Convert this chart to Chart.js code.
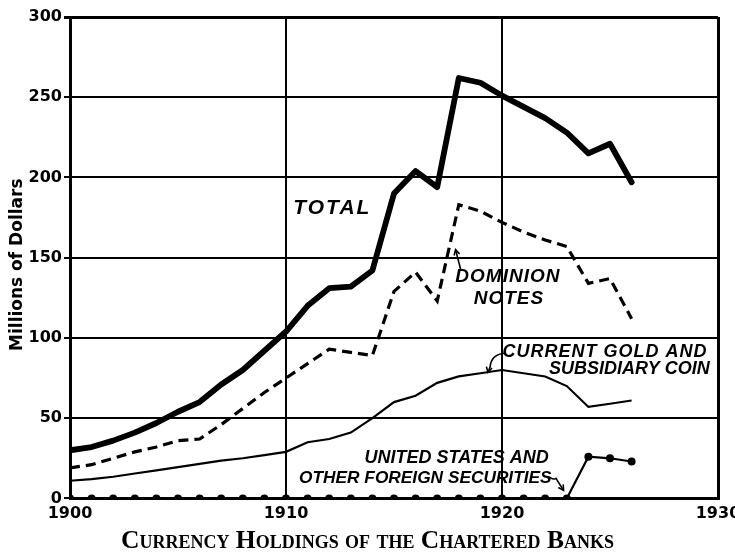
<!DOCTYPE html>
<html><head><meta charset="utf-8">
<script src="https://cdn.jsdelivr.net/npm/chart.js@4/dist/chart.umd.min.js"></script>
<style>html,body{margin:0;padding:0;background:#fff}#wrap{width:735px;height:557px}</style>
</head><body><div id="wrap"><canvas id="c" width="735" height="557"></canvas></div>
<script>
// ---- data ----
const years = [1900,1901,1902,1903,1904,1905,1906,1907,1908,1909,1910,1911,1912,1913,1914,1915,1916,1917,1918,1919,1920,1921,1922,1923,1924,1925,1926];
const total = [30,32,36,41,47,54,60,71,80,92,104,120,131,132,142,190,204,194,262,259,251,244,237,228,215,221,197];
const dominionNotes = [19,21,25,29,32,36,37,46,56,66,75,84,93,91,89,129,141,123,183,179,172,166,161,157,134,137,112];
const goldCoin = [11,12,13.5,15.5,17.5,19.5,21.5,23.5,25,27,29,35,37,41,50,60,64,72,76,78,80,78,76,70,57,59,61];
const securities = [0,0,0,0,0,0,0,0,0,0,0,0,0,0,0,0,0,0,0,0,0,0,0,0,26,25,23];
const xTicks = [1900,1910,1920,1930];
const yTicks = [0,50,100,150,200,250,300];
const yTitle = 'Millions of Dollars';
const chartTitle = 'Currency Holdings of the Chartered Banks';

const pts = arr => years.map((y,i)=>({x:y,y:arr[i]}));

// text labels placed in data coordinates
const labels = [
  {t:'TOTAL', x:1912.1, y:181, size:21, sp:2},
  {t:'DOMINION', x:1920.25, y:138, size:19, sp:1},
  {t:'NOTES', x:1920.3, y:124.5, size:19, sp:1},
  {t:'CURRENT GOLD AND', x:1924.75, y:91.5, size:18, sp:1},
  {t:'SUBSIDIARY COIN', x:1925.9, y:80.5, size:18, sp:0},
  {t:'UNITED STATES AND', x:1917.9, y:25, size:18, sp:0},
  {t:'OTHER FOREIGN SECURITIES', x:1916.45, y:12.5, size:17.3, sp:0}
];

const annot = {
  id:'annot',
  afterDatasetsDraw(chart){
    const ctx = chart.ctx, xs = chart.scales.x, ys = chart.scales.y;
    const X = v=>xs.getPixelForValue(v), Y = v=>ys.getPixelForValue(v);
    ctx.save();
    ctx.fillStyle = '#000';
    ctx.textAlign = 'center';
    ctx.textBaseline = 'middle';
    labels.forEach(l=>{
      ctx.font = `italic bold ${l.size}px "Liberation Sans", Arial, sans-serif`;
      ctx.letterSpacing = l.sp + 'px';
      ctx.fillText(l.t, X(l.x) + l.sp/2, Y(l.y));
    });
    ctx.letterSpacing = '0px';
    // y-axis title
    ctx.save();
    ctx.translate(17.5, (chart.chartArea.top + chart.chartArea.bottom)/2 + 7);
    ctx.rotate(-Math.PI/2);
    ctx.font = 'bold 17px "DejaVu Sans", sans-serif';
    ctx.fillText(yTitle, 0, 0);
    ctx.restore();

    ctx.strokeStyle = '#000';
    ctx.lineWidth = 1.6;
    const arrowHead = (x1,y1,x2,y2)=>{
      const a = Math.atan2(y2-y1,x2-x1), L=6;
      ctx.beginPath();
      ctx.moveTo(x2 - L*Math.cos(a-0.5), y2 - L*Math.sin(a-0.5));
      ctx.lineTo(x2,y2);
      ctx.lineTo(x2 - L*Math.cos(a+0.5), y2 - L*Math.sin(a+0.5));
      ctx.stroke();
    };
    // gold leader
    ctx.beginPath();
    ctx.moveTo(X(1920.15), Y(90.5));
    ctx.quadraticCurveTo(X(1919.5), Y(90), X(1919.45), Y(82));
    ctx.lineTo(X(1919.35), Y(78.5));
    ctx.stroke();
    arrowHead(X(1919.45),Y(84),X(1919.35),Y(78.5));
    // securities leader
    ctx.beginPath();
    ctx.moveTo(X(1922.05), Y(13));
    ctx.bezierCurveTo(X(1922.2), Y(15), X(1922.3), Y(10.5), X(1922.5), Y(12.5));
    ctx.lineTo(X(1922.85), Y(5));
    ctx.stroke();
    arrowHead(X(1922.5),Y(12.5),X(1922.85),Y(5));
    // dominion leader
    ctx.beginPath();
    ctx.moveTo(X(1918.1), Y(142));
    ctx.lineTo(X(1917.85), Y(155));
    ctx.stroke();
    arrowHead(X(1918.1),Y(142),X(1917.85),Y(155));
    ctx.restore();
  }
};

new Chart(document.getElementById('c'), {
  type:'line',
  data:{
    datasets:[
      {label:'Total', data:pts(total), borderColor:'#000', borderWidth:5.8, pointRadius:0, borderJoinStyle:'round', borderCapStyle:'round', tension:0},
      {label:'Dominion Notes', data:pts(dominionNotes), borderColor:'#000', borderWidth:3.2, borderDash:[10,6], pointRadius:0, tension:0},
      {label:'Current Gold and Subsidiary Coin', data:pts(goldCoin), borderColor:'#000', borderWidth:2.2, pointRadius:0, tension:0},
      {label:'United States and Other Foreign Securities', data:pts(securities), borderColor:'#000', borderWidth:2.2, pointRadius:4, pointBackgroundColor:'#000', pointBorderWidth:0, tension:0}
    ]
  },
  options:{
    responsive:false, animation:false, devicePixelRatio:1,
    layout:{padding:{left:0,right:0,top:17,bottom:0}},
    plugins:{
      legend:{display:false}, tooltip:{enabled:false},
      title:{display:true, position:'bottom', text:chartTitle, color:'#000',
        font:{family:'"Liberation Serif", "DejaVu Serif", serif', size:25.5, weight:'small-caps bold', lineHeight:1.2}, padding:{top:0,bottom:0}}
    },
    scales:{
      x:{type:'linear', min:1900, max:1930,
        afterBuildTicks(s){ s.ticks = xTicks.map(v=>({value:v})); },
        afterFit(s){ s.height = 28; s.paddingLeft = 0; s.paddingRight = 17; },
        ticks:{color:'#000', padding:6, maxRotation:0, font:{family:'"DejaVu Sans", sans-serif', weight:'bold', size:16}, callback:v=>String(v)},
        grid:{color:'#000', lineWidth:(c)=> (c.index===0||c.index===3)?3:2, drawTicks:false},
        border:{display:true, color:'#000', width:3}
      },
      y:{min:0, max:300,
        afterBuildTicks(s){ s.ticks = yTicks.map(v=>({value:v})); },
        afterFit(s){ s.width = 70; },
        ticks:{color:'#000', padding:2, font:{family:'"DejaVu Sans", sans-serif', weight:'bold', size:16}, callback:v=>String(v)},
        grid:{color:'#000', lineWidth:(c)=> (c.index===6)?3:2, tickLength:6},
        border:{display:true, color:'#000', width:3},
        title:{display:false}
      }
    }
  },
  plugins:[annot]
});
</script></body></html>
